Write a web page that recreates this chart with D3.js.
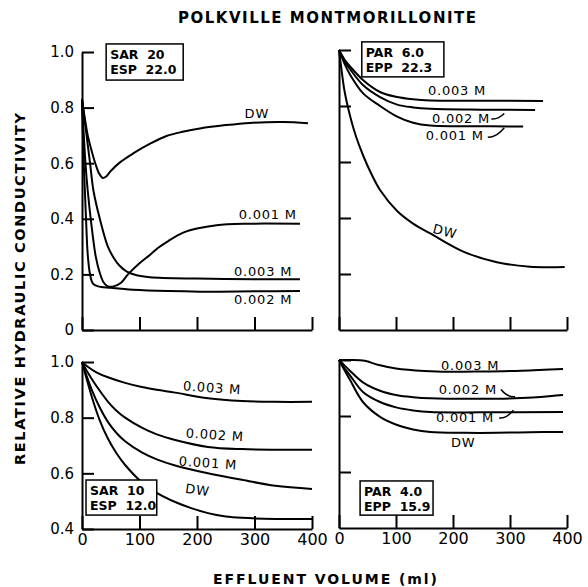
<!DOCTYPE html>
<html>
<head>
<meta charset="utf-8">
<script src="https://cdn.jsdelivr.net/npm/d3@7"></script>
<style>
  body { margin: 0; background: #fff; }
  svg { display: block; }
</style>
</head>
<body>
<svg id="chart"></svg>
<script>
const WIDTH = 588;
const HEIGHT = 587;

// effluent volume (ml) vs relative hydraulic conductivity
const volumeTicks = [0, 100, 200, 300, 400];

// SAR 20 / ESP 22.0
const sar20DW = [[0,0.83],[5,0.76],[10,0.70],[16,0.65],[23,0.60],[30,0.562],[36,0.547],[42,0.552],[50,0.572],[66,0.603],[89,0.635],[120,0.672],[147,0.698],[175,0.713],[205,0.725],[250,0.737],[292,0.745],[350,0.748],[393,0.744]];
const sar20M001 = [[0,0.83],[6,0.60],[10,0.50],[16,0.385],[24,0.263],[31,0.205],[38,0.17],[45,0.157],[55,0.157],[68,0.17],[80,0.20],[100,0.24],[118,0.27],[132,0.295],[150,0.32],[176,0.35],[200,0.365],[234,0.377],[280,0.382],[379,0.382]];
const sar20M002 = [[0,0.83],[3,0.60],[5,0.50],[7,0.40],[10,0.27],[14,0.20],[19,0.167],[28,0.157],[50,0.152],[89,0.145],[150,0.14],[205,0.138],[300,0.139],[379,0.14]];
const sar20M003 = [[0,0.83],[8,0.70],[14,0.60],[20,0.50],[31,0.40],[45,0.30],[55,0.26],[65,0.232],[78,0.21],[95,0.197],[118,0.19],[200,0.185],[300,0.183],[379,0.183]];

// PAR 6.0 / EPP 22.3
const par6DW = [[0,1.0],[5,0.92],[10,0.85],[20,0.76],[30,0.69],[42,0.625],[55,0.565],[72,0.5],[102,0.425],[130,0.38],[160,0.345],[218,0.28],[277,0.242],[335,0.226],[396,0.225]];
const par6M001 = [[0,1.0],[10,0.95],[20,0.91],[42,0.846],[72,0.80],[102,0.762],[130,0.74],[160,0.73],[220,0.728],[323,0.727]];
const par6M002 = [[0,1.0],[10,0.96],[20,0.93],[42,0.875],[72,0.832],[102,0.805],[130,0.795],[160,0.79],[250,0.787],[344,0.786]];
const par6M003 = [[0,1.0],[10,0.965],[20,0.94],[42,0.893],[72,0.85],[102,0.832],[130,0.824],[160,0.82],[250,0.819],[358,0.818]];

// SAR 10 / ESP 12.0
const sar10DW = [[0,1.0],[8,0.94],[17,0.875],[30,0.795],[45,0.725],[60,0.672],[75,0.63],[104,0.568],[130,0.53],[162,0.497],[190,0.475],[219,0.457],[250,0.445],[278,0.44],[336,0.436],[400,0.436]];
const sar10M001 = [[0,1.0],[8,0.95],[17,0.90],[30,0.84],[45,0.785],[60,0.745],[75,0.715],[104,0.675],[130,0.65],[162,0.628],[219,0.60],[278,0.577],[336,0.555],[400,0.544]];
const sar10M002 = [[0,1.0],[10,0.962],[23,0.92],[45,0.858],[60,0.825],[75,0.80],[104,0.764],[130,0.74],[162,0.72],[219,0.695],[278,0.687],[340,0.685],[400,0.685]];
const sar10M003 = [[0,1.0],[10,0.983],[25,0.963],[45,0.945],[75,0.925],[104,0.91],[130,0.90],[162,0.89],[219,0.87],[278,0.86],[336,0.857],[400,0.857]];

// PAR 4.0 / EPP 15.9
const par4DW = [[0,1.0],[8,0.97],[19,0.93],[42,0.85],[72,0.797],[102,0.768],[130,0.752],[160,0.743],[220,0.74],[277,0.74],[335,0.742],[393,0.743]];
const par4M001 = [[0,1.0],[8,0.975],[19,0.946],[42,0.886],[72,0.85],[102,0.83],[130,0.82],[160,0.814],[250,0.813],[393,0.814]];
const par4M002 = [[0,1.0],[10,0.98],[20,0.96],[42,0.92],[72,0.89],[102,0.874],[130,0.867],[160,0.863],[277,0.862],[340,0.866],[393,0.875]];
const par4M003 = [[0,1.0],[20,1.0],[45,0.997],[70,0.982],[100,0.97],[150,0.961],[195,0.958],[250,0.959],[320,0.962],[393,0.968]];

// curve labels: text, anchor (volume, conductivity), tilt
const sar20Labels = [["DW",304,0.78,0],["0.001 M",323,0.417,0],["0.003 M",315,0.212,0],["0.002 M",315,0.108,0]];
const par6Labels = [["0.003 M",207,0.854,0],["0.002 M",214,0.757,0],["0.001 M",203,0.696,0],["DW",186,0.352,14]];
const sar10Labels = [["0.003 M",226,0.907,4],["0.002 M",231,0.738,4],["0.001 M",219,0.637,4],["DW",201,0.54,8]];
const par4Labels = [["0.003 M",230,0.982,0],["0.002 M",226,0.893,0],["0.001 M",221,0.796,0],["DW",218,0.704,0]];

// little arrows from label to curve: [v1,k1,v2,k2]
const par6Arrows = [[267,0.754,290,0.773],[261,0.689,290,0.722]];
const par4Arrows = [[284,0.895,309,0.869],[281,0.793,306,0.821]];

// parameter boxes
const sar20Box = ["SAR  20", "ESP  22.0"];
const par6Box = ["PAR  6.0", "EPP  22.3"];
const sar10Box = ["SAR  10", "ESP  12.0"];
const par4Box = ["PAR  4.0", "EPP  15.9"];

const FONT = "'DejaVu Sans', sans-serif";

const svg = d3.select("#chart").attr("width", WIDTH).attr("height", HEIGHT);

const panels = [
  {x: [82, 312], y: [330, 52], dom: [0, 1], yTicks: [0, 0.2, 0.4, 0.6, 0.8, 1.0], yLab: true, xLab: false,
   curves: [sar20DW, sar20M001, sar20M002, sar20M003], labels: sar20Labels, arrows: [],
   box: sar20Box, boxAt: [42, 176, 1.029, 0.899]},
  {x: [339, 567], y: [330, 50], dom: [0, 1], yTicks: [0.2, 0.4, 0.6, 0.8, 1.0], yLab: false, xLab: false,
   curves: [par6DW, par6M001, par6M002, par6M003], labels: par6Labels, arrows: par6Arrows,
   box: par6Box, boxAt: [40, 184, 1.029, 0.904]},
  {x: [82, 312], y: [529, 362], dom: [0.4, 1], yTicks: [0.4, 0.6, 0.8, 1.0], yLab: true, xLab: true,
   curves: [sar10DW, sar10M001, sar10M002, sar10M003], labels: sar10Labels, arrows: [],
   box: sar10Box, boxAt: [7, 130, 0.576, 0.45]},
  {x: [339, 567], y: [528, 360], dom: [0.4, 1], yTicks: [0.6, 0.8, 1.0], yLab: false, xLab: true,
   curves: [par4DW, par4M001, par4M002, par4M003], labels: par4Labels, arrows: par4Arrows,
   box: par4Box, boxAt: [37, 165, 0.568, 0.446]}
];

const tickFmt = d => d === 0 ? "0" : d3.format(".1f")(d);

panels.forEach(p => {
  const x = d3.scaleLinear().domain([0, 400]).range(p.x);
  const y = d3.scaleLinear().domain(p.dom).range(p.y);
  const g = svg.append("g");

  // y axis, ticks pointing into the plot
  const ya = g.append("g")
    .attr("transform", `translate(${p.x[0]},0)`)
    .call(d3.axisLeft(y).tickValues(p.yTicks).tickSize(-12).tickSizeOuter(0).tickPadding(8)
      .tickFormat(p.yLab ? tickFmt : ""));
  ya.attr("font-family", FONT).attr("font-size", 15);

  const xa = g.append("g")
    .attr("transform", `translate(0,${p.y[0]})`)
    .call(d3.axisBottom(x).tickValues(volumeTicks).tickSize(-13).tickSizeOuter(0).tickPadding(5)
      .tickFormat(p.xLab ? d3.format("d") : ""));
  xa.attr("font-family", FONT).attr("font-size", 16);

  g.selectAll(".domain, .tick line").attr("stroke", "#000").attr("stroke-width", 2);
  g.selectAll(".tick text").attr("fill", "#000");

  // curves
  const line = d3.line().x(d => x(d[0])).y(d => y(d[1])).curve(d3.curveCatmullRom.alpha(0.5));
  g.selectAll("path.curve")
    .data(p.curves)
    .enter()
    .append("path")
    .attr("class", "curve")
    .attr("d", line)
    .attr("fill", "none")
    .attr("stroke", "#000")
    .attr("stroke-width", 2);

  // curve labels
  g.selectAll("text.lab")
    .data(p.labels)
    .enter()
    .append("text")
    .attr("class", "lab")
    .attr("transform", d => `translate(${x(d[1])},${y(d[2])}) rotate(${d[3]})`)
    .attr("text-anchor", "middle")
    .attr("dominant-baseline", "central")
    .attr("font-family", FONT)
    .attr("font-size", 13)
    .attr("letter-spacing", 0.8)
    .text(d => d[0]);

  // arrows
  p.arrows.forEach(a => {
    const x1 = x(a[0]), y1 = y(a[1]), x2 = x(a[2]), y2 = y(a[3]);
    const cx = (x1 + x2) / 2, cy = Math.max(y1, y2) + 1;
    g.append("path")
      .attr("d", `M${x1},${y1}Q${cx},${cy} ${x2},${y2}`)
      .attr("fill", "none").attr("stroke", "#000").attr("stroke-width", 1.5);
  });

  // parameter box
  const bx0 = x(p.boxAt[0]), bx1 = x(p.boxAt[1]), by0 = y(p.boxAt[2]), by1 = y(p.boxAt[3]);
  g.append("rect")
    .attr("x", bx0).attr("y", by0)
    .attr("width", bx1 - bx0).attr("height", by1 - by0)
    .attr("fill", "#fff").attr("stroke", "#000").attr("stroke-width", 1.5);
  g.selectAll("text.box")
    .data(p.box)
    .enter()
    .append("text")
    .attr("class", "box")
    .attr("x", bx0 + 4)
    .attr("y", (d, i) => by0 + 15 + i * 15)
    .attr("font-family", FONT)
    .attr("font-size", 12.5)
    .attr("font-weight", "bold")
    .attr("xml:space", "preserve")
    .style("white-space", "pre")
    .text(d => d);
});

// titles
svg.append("text")
  .attr("x", 327).attr("y", 23)
  .attr("text-anchor", "middle")
  .attr("font-family", FONT).attr("font-size", 15).attr("font-weight", "bold")
  .attr("textLength", 298).attr("lengthAdjust", "spacing")
  .text("POLKVILLE MONTMORILLONITE");

svg.append("text")
  .attr("transform", "translate(25,289) rotate(-90)")
  .attr("text-anchor", "middle")
  .attr("font-family", FONT).attr("font-size", 14.5).attr("font-weight", "bold")
  .attr("textLength", 352).attr("lengthAdjust", "spacing")
  .text("RELATIVE HYDRAULIC CONDUCTIVITY");

svg.append("text")
  .attr("x", 325).attr("y", 584)
  .attr("text-anchor", "middle")
  .attr("font-family", FONT).attr("font-size", 14).attr("font-weight", "bold")
  .attr("textLength", 224).attr("lengthAdjust", "spacing")
  .text("EFFLUENT VOLUME (ml)");
</script>
</body>
</html>
